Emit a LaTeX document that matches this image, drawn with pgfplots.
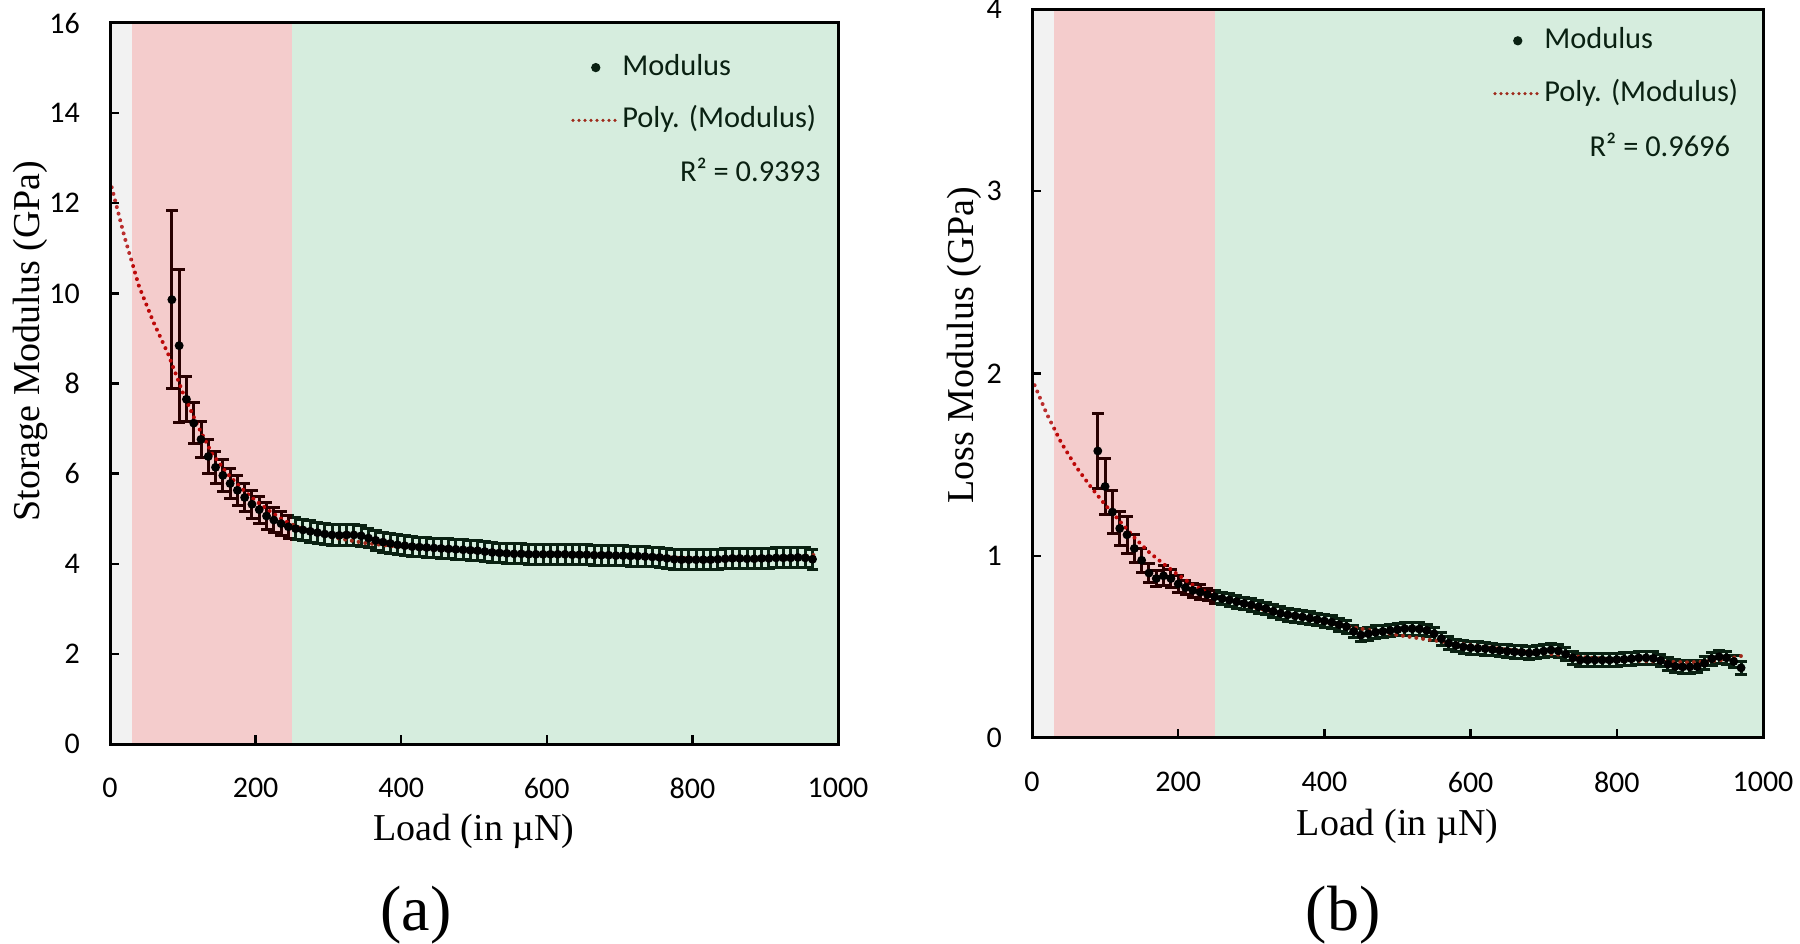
\documentclass[border=0pt]{standalone}
\usepackage{pgfplots}
\usepackage{pgfplotstable}
\pgfplotsset{compat=1.18}
\usepackage{fontspec}
\setmainfont{Liberation Serif}
\newfontfamily\calibri{Carlito}
\definecolor{ovgrey}{RGB}{190,190,190}
\definecolor{ovred}{RGB}{200,0,0}
\definecolor{ovgreen}{RGB}{50,165,90}
\definecolor{trend}{RGB}{185,10,10}
\definecolor{legtext}{RGB}{10,33,18}
\definecolor{legtrend}{RGB}{158,41,26}

\pgfplotstableread{
x y e
85 9.86 1.97
95 8.84 1.70
105 7.65 0.50
115 7.12 0.45
125 6.76 0.40
135 6.38 0.38
145 6.14 0.36
155 5.96 0.35
165 5.78 0.34
175 5.63 0.33
185 5.47 0.32
195 5.32 0.31
205 5.20 0.30
215 5.06 0.29
225 4.97 0.28
235 4.89 0.27
245 4.82 0.26
255 4.78 0.25
265 4.75 0.24
275 4.72 0.24
285 4.69 0.23
295 4.66 0.23
305 4.64 0.23
315 4.63 0.23
325 4.64 0.23
335 4.64 0.23
345 4.62 0.23
355 4.57 0.22
365 4.52 0.22
375 4.48 0.22
385 4.45 0.22
395 4.42 0.22
405 4.40 0.22
415 4.38 0.22
425 4.37 0.22
435 4.36 0.22
445 4.35 0.22
455 4.34 0.22
465 4.33 0.22
475 4.32 0.22
485 4.31 0.22
495 4.30 0.22
505 4.29 0.22
515 4.27 0.22
525 4.25 0.22
535 4.24 0.22
545 4.23 0.22
555 4.22 0.22
565 4.22 0.22
575 4.21 0.22
585 4.21 0.22
595 4.21 0.22
605 4.21 0.22
615 4.21 0.22
625 4.21 0.22
635 4.20 0.22
645 4.20 0.22
655 4.20 0.22
665 4.19 0.22
675 4.19 0.22
685 4.19 0.22
695 4.18 0.22
705 4.18 0.22
715 4.17 0.22
725 4.17 0.22
735 4.16 0.22
745 4.15 0.22
755 4.14 0.22
765 4.12 0.22
775 4.10 0.22
785 4.09 0.22
795 4.09 0.22
805 4.09 0.22
815 4.09 0.22
825 4.09 0.22
835 4.10 0.22
845 4.11 0.22
855 4.12 0.22
865 4.12 0.22
875 4.11 0.22
885 4.11 0.22
895 4.12 0.22
905 4.12 0.22
915 4.13 0.22
925 4.13 0.22
935 4.13 0.22
945 4.14 0.22
955 4.13 0.22
965 4.10 0.22
}\leftdata

\pgfplotstableread{
x y
0 12.50
20 11.25
40 10.15
60 9.35
80 8.65
100 7.80
120 7.08
140 6.45
160 6.02
180 5.68
200 5.40
220 5.16
240 4.95
260 4.80
280 4.68
300 4.60
350 4.46
400 4.37
450 4.33
500 4.29
550 4.25
600 4.22
650 4.20
700 4.18
750 4.15
800 4.12
850 4.11
900 4.12
940 4.15
970 4.20
}\lefttrend

\pgfplotstableread{
x y e
90 1.575 0.205
100 1.380 0.155
110 1.240 0.120
120 1.150 0.095
130 1.115 0.100
140 1.040 0.075
150 0.975 0.065
160 0.905 0.050
170 0.875 0.045
180 0.890 0.055
190 0.875 0.050
200 0.845 0.045
210 0.825 0.040
220 0.810 0.040
230 0.800 0.040
240 0.787 0.035
250 0.775 0.035
260 0.765 0.035
270 0.757 0.035
280 0.748 0.035
290 0.738 0.035
300 0.730 0.035
310 0.720 0.035
320 0.710 0.035
330 0.695 0.035
340 0.684 0.035
350 0.676 0.035
360 0.670 0.035
370 0.664 0.035
380 0.657 0.035
390 0.650 0.035
400 0.642 0.035
410 0.635 0.035
420 0.622 0.035
430 0.611 0.035
440 0.585 0.035
450 0.565 0.035
460 0.572 0.035
470 0.580 0.035
480 0.585 0.035
490 0.590 0.035
500 0.595 0.035
510 0.600 0.035
520 0.600 0.035
530 0.598 0.035
540 0.590 0.035
550 0.572 0.035
560 0.545 0.035
570 0.520 0.035
580 0.508 0.035
590 0.500 0.035
600 0.495 0.035
610 0.492 0.035
620 0.490 0.035
630 0.485 0.035
640 0.480 0.035
650 0.476 0.035
660 0.473 0.035
670 0.470 0.035
680 0.466 0.035
690 0.470 0.035
700 0.477 0.035
710 0.483 0.035
720 0.478 0.035
730 0.460 0.035
740 0.440 0.035
750 0.428 0.035
760 0.428 0.035
770 0.428 0.035
780 0.428 0.035
790 0.428 0.035
800 0.430 0.035
810 0.432 0.035
820 0.435 0.035
830 0.440 0.035
840 0.440 0.035
850 0.437 0.035
860 0.425 0.035
870 0.405 0.035
880 0.393 0.035
890 0.390 0.035
900 0.390 0.035
910 0.392 0.035
920 0.410 0.035
930 0.435 0.035
940 0.446 0.035
950 0.440 0.035
960 0.420 0.035
970 0.385 0.035
}\rightdata

\pgfplotstableread{
x y
0 1.97
20 1.78
40 1.62
60 1.49
80 1.38
100 1.28
120 1.19
140 1.10
160 1.02
180 0.955
200 0.895
220 0.840
250 0.775
300 0.720
350 0.675
400 0.635
450 0.600
500 0.565
550 0.535
600 0.510
650 0.485
700 0.465
750 0.445
800 0.430
850 0.420
900 0.415
940 0.425
970 0.450
}\righttrend

\pgfplotsset{
  panel/.style={
    scale only axis,
    axis on top,
    xmin=0, xmax=1000,
    xtick={0,200,...,1000},
    tick pos=left,
    tick align=inside,
    major tick length=2.3pt,
    axis line style={line width=0.75pt},
    every tick/.style={black, line width=0.6pt},
    /pgf/number format/assume math mode=true,
    /pgf/number format/1000 sep={},
    ticklabel style={font=\calibri\fontsize{7.5}{9}\selectfont},
    xticklabel style={yshift=-5pt},
    yticklabel style={xshift=-4pt},
    label style={font=\fontsize{9.5}{11}\selectfont},
    xlabel={Load (in µN)},
    xlabel style={at={(axis description cs:0.5,-0.121)}, anchor=center},
    legend cell align=left,
    legend style={draw=none, fill=none,
      font=\calibri\fontsize{7.6}{9}\selectfont, text=legtext,
      anchor=north east, inner sep=0pt, row sep=5pt,
      nodes={inner sep=0.5pt, text height=5.5pt, text depth=1.7pt}},
  },
  trendstyle/.style={trend, line width=1.0pt, dash pattern=on 0pt off 1.7pt, line cap=round, no marks, forget plot},
  datastyle/.style={black, only marks, mark=*, mark size=0.9pt, forget plot,
    error bars/.cd, y dir=both, y explicit,
    error bar style={black, line width=0.75pt},
    error mark options={rotate=90, black, mark size=1.45pt, line width=0.75pt}},
}

\begin{document}
\begin{tikzpicture}
\useasboundingbox (0,0) rectangle (450pt,235.75pt);

% ---------- (a) ----------
\begin{axis}[panel,
  at={(27.5pt,49.75pt)}, anchor=south west,
  width=182pt, height=180.25pt,
  ymin=0, ymax=16, ytick={0,2,...,16},
  ylabel={Storage Modulus (GPa)},
  ylabel style={at={(axis description cs:-0.11,0.559)}, anchor=center},
  legend style={at={(rel axis cs:0.974,0.962)}},
]
\addplot[datastyle] table[x=x, y=y, y error=e] {\leftdata};
\addplot[trendstyle] table[x=x, y=y] {\lefttrend};
\fill[ovgrey, fill opacity=0.2] (axis cs:0,0) rectangle (axis cs:30,16);
\fill[ovred, fill opacity=0.2] (axis cs:30,0) rectangle (axis cs:250,16);
\fill[ovgreen, fill opacity=0.2] (axis cs:250,0) rectangle (axis cs:1000,16);
\addlegendimage{legend image code/.code={\fill[legtext] (0.2cm,0cm) circle (0.95pt);}}
\addlegendentry{Modulus}
\addlegendimage{legend image code/.code={\draw[legtrend, line width=0.9pt, dash pattern=on 0pt off 1.5pt, line cap=round] (0cm,0cm) -- (0.4cm,0cm);}}
\addlegendentry{Poly. (Modulus)}
\node[anchor=east, inner sep=0pt, text=legtext, font=\calibri\fontsize{7.6}{9}\selectfont] at (rel axis cs:0.977,0.796) {R² = 0.9393};
\end{axis}

% ---------- (b) ----------
\begin{axis}[panel,
  at={(258pt,51.25pt)}, anchor=south west,
  width=182.75pt, height=182.25pt,
  ymin=0, ymax=4, ytick={0,1,...,4},
  ylabel={Loss Modulus (GPa)},
  ylabel style={at={(axis description cs:-0.093,0.539)}, anchor=center},
  legend style={at={(rel axis cs:0.97,0.98)}},
]
\addplot[datastyle] table[x=x, y=y, y error=e] {\rightdata};
\addplot[trendstyle] table[x=x, y=y] {\righttrend};
\fill[ovgrey, fill opacity=0.2] (axis cs:0,0) rectangle (axis cs:30,4);
\fill[ovred, fill opacity=0.2] (axis cs:30,0) rectangle (axis cs:250,4);
\fill[ovgreen, fill opacity=0.2] (axis cs:250,0) rectangle (axis cs:1000,4);
\addlegendimage{legend image code/.code={\fill[legtext] (0.2cm,0cm) circle (0.95pt);}}
\addlegendentry{Modulus}
\addlegendimage{legend image code/.code={\draw[legtrend, line width=0.9pt, dash pattern=on 0pt off 1.5pt, line cap=round] (0cm,0cm) -- (0.4cm,0cm);}}
\addlegendentry{Poly. (Modulus)}
\node[anchor=east, inner sep=0pt, text=legtext, font=\calibri\fontsize{7.6}{9}\selectfont] at (rel axis cs:0.956,0.813) {R² = 0.9696};
\end{axis}

\node[font=\fontsize{16}{19}\selectfont] at (104pt,6.9pt) {(a)};
\node[font=\fontsize{16}{19}\selectfont] at (335.75pt,6.9pt) {(b)};
\end{tikzpicture}
\end{document}
